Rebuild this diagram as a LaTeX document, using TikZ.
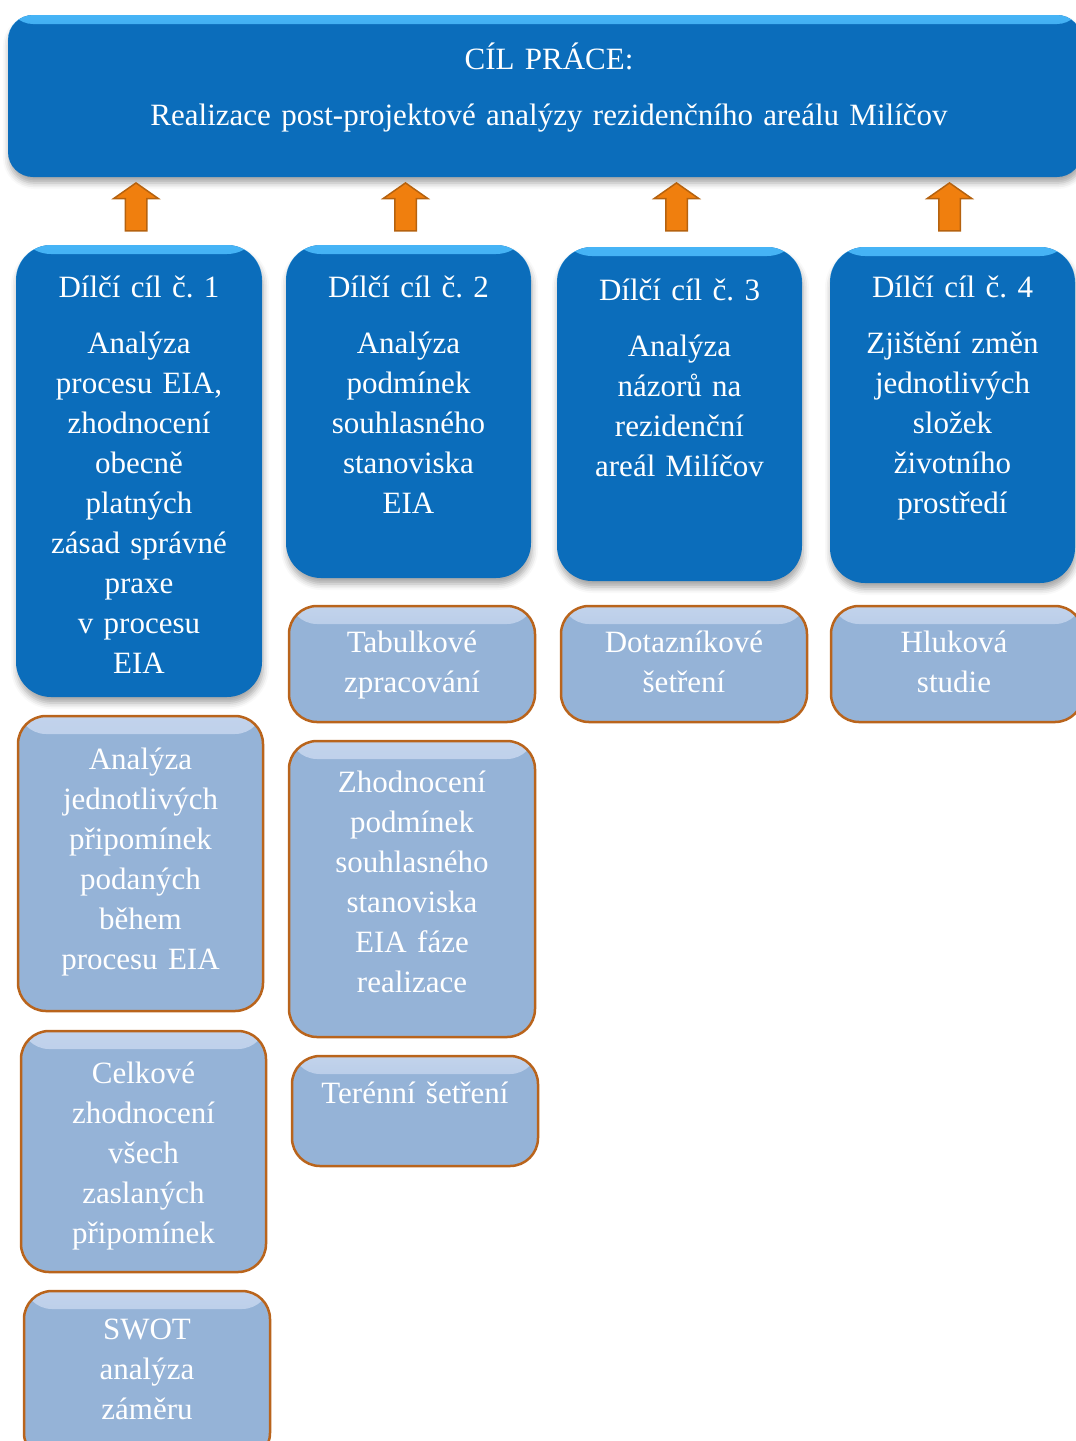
\documentclass[tikz,border=0pt]{standalone}
\usepackage{fontspec}
\setmainfont{Liberation Serif}
\usetikzlibrary{shapes.arrows, shadows.blur, calc, positioning}
\definecolor{goalblue}{HTML}{0B6DBB}
\definecolor{goalhi}{HTML}{46B4F6}
\definecolor{stepfill}{HTML}{95B3D7}
\definecolor{stephi}{HTML}{C2D3EC}
\definecolor{stepedge}{HTML}{B9641C}
\definecolor{arrowfill}{HTML}{F07F0E}
\definecolor{arrowedge}{HTML}{B5620F}
\tikzset{goal/.style={fill=goalblue, rounded corners=35, anchor=north west, inner sep=0pt, outer sep=0pt,
		blur shadow={shadow xshift=1pt, shadow yshift=-6pt, shadow blur radius=6pt, shadow opacity=35},
		path picture={\shade[top color=goalhi, bottom color=goalblue] (path picture bounding box.north west) rectangle ([yshift=-9]path picture bounding box.north east);}}}
\tikzset{stepbox/.style={fill=stepfill, draw=stepedge, line width=2.5, rounded corners=28, anchor=north west, inner sep=0pt, outer sep=0pt,
		path picture={\shade[top color=stephi, bottom color=stepfill] (path picture bounding box.north west) rectangle ([yshift=-18]path picture bounding box.north east);}}}
\tikzset{txt/.style={text=white, align=center, text width=#1, inner sep=0pt, anchor=base, font=\fontsize{31}{40}\selectfont\frenchspacing}, txt/.default=236}
\tikzset{uparrow/.style={single arrow, draw=arrowedge, fill=arrowfill, line width=1.5, rotate=90, inner xsep=0pt, inner ysep=10pt,
		minimum height=48, single arrow head extend=11.5, single arrow tip angle=110, anchor=tip}}

\begin{document}
\begin{tikzpicture}[x=1pt, y=1pt]
	\useasboundingbox (0,0) rectangle (1076,-1441);
	\clip (0,0) rectangle (1076,-1441);
	
	% main goal
	\node[goal, rounded corners=25, minimum width=1074, minimum height=162] (top) at (8,-15) {};
	\node[txt=1000] (toptxt) at (549,-69) {CÍL PRÁCE:\\[16pt]Realizace post-projektové analýzy rezidenčního areálu Milíčov};
	
	% partial goals
	\node[goal, minimum width=246, minimum height=452] (g1) at (16,-245) {};
	\node[goal, minimum width=245, minimum height=333] (g2) at (286,-245) {};
	\node[goal, minimum width=245, minimum height=334] (g3) at (557,-247) {};
	\node[goal, minimum width=245, minimum height=336] (g4) at (830,-247) {};
	
	\node[txt] (g1txt) at ([yshift=-52]g1.north) {Dílčí cíl č. 1\\[16pt]Analýza\\procesu EIA,\\zhodnocení\\obecně\\platných\\zásad správné\\praxe\\v procesu\\EIA};
	\node[txt] (g2txt) at ([yshift=-52]g2.north) {Dílčí cíl č. 2\\[16pt]Analýza\\podmínek\\souhlasného\\stanoviska\\EIA};
	\node[txt] (g3txt) at ([yshift=-53]g3.north) {Dílčí cíl č. 3\\[16pt]Analýza\\názorů na\\rezidenční\\areál Milíčov};
	\node[txt] (g4txt) at ([yshift=-50]g4.north) {Dílčí cíl č. 4\\[16pt]Zjištění změn\\jednotlivých\\složek\\životního\\prostředí};
	
	\foreach \g in {g1,g2,g3,g4}
		\node[uparrow] (up-\g) at ($(\g.north |- top.south)+(-3,-5)$) {};
	
	% methods
	\node[stepbox, minimum width=246, minimum height=116] (t2) at (289,-606) {};
	\node[stepbox, minimum width=246, minimum height=116] (t3) at (561,-606) {};
	\node[stepbox, minimum width=252, minimum height=116] (t4) at (831,-606) {};
	\node[stepbox, minimum width=245, minimum height=295] (a1) at (18,-716) {};
	\node[stepbox, minimum width=246, minimum height=296] (z2) at (289,-741) {};
	\node[stepbox, minimum width=246, minimum height=110] (s2) at (292,-1056) {};
	\node[stepbox, minimum width=245, minimum height=241] (c1) at (21,-1031) {};
	\node[stepbox, minimum width=246, minimum height=170] (w1) at (24,-1291) {};
	
	\node[txt] (t2txt) at ([yshift=-46]t2.north) {Tabulkové\\zpracování};
	\node[txt] (t3txt) at ([yshift=-46]t3.north) {Dotazníkové\\šetření};
	\node[txt] (t4txt) at ([xshift=-3,yshift=-46]t4.north) {Hluková\\studie};
	\node[txt] (a1txt) at ([yshift=-53]a1.north) {Analýza\\jednotlivých\\připomínek\\podaných\\během\\procesu EIA};
	\node[txt] (z2txt) at ([yshift=-51]z2.north) {Zhodnocení\\podmínek\\souhlasného\\stanoviska\\EIA fáze\\realizace};
	\node[txt] (s2txt) at ([yshift=-47]s2.north) {Terénní šetření};
	\node[txt] (c1txt) at ([yshift=-52]c1.north) {Celkové\\zhodnocení\\všech\\zaslaných\\připomínek};
	\node[txt] (w1txt) at ([yshift=-48]w1.north) {SWOT\\analýza\\záměru};
\end{tikzpicture}
\end{document}
